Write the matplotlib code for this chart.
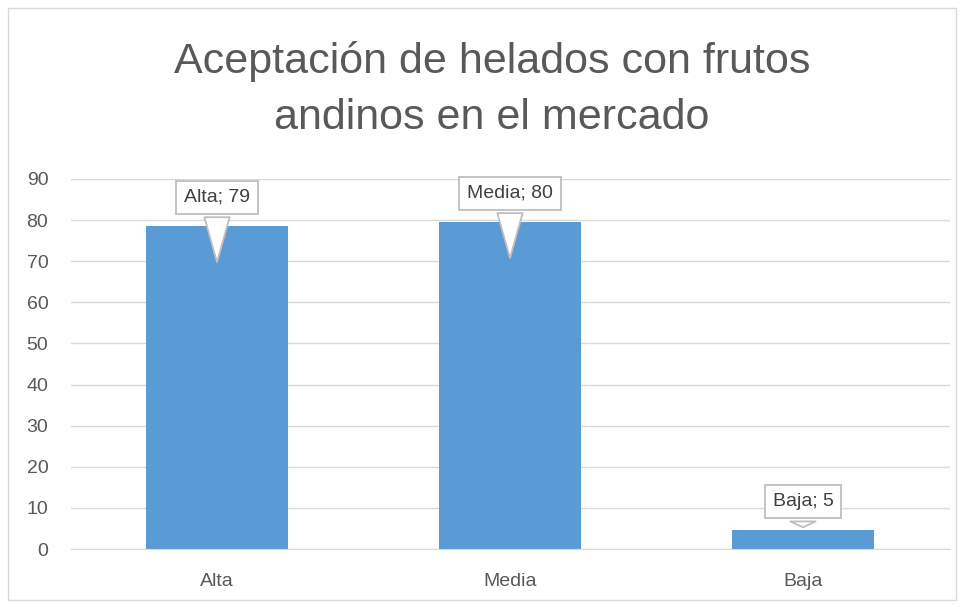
import matplotlib.pyplot as plt
from matplotlib.patches import Rectangle

categories = ["Alta", "Media", "Baja"]
values = [78.6, 79.6, 4.6]
tip_drop = [9.5, 9.5, 0.0]   # how far below bar top the callout points
yticks = list(range(0, 100, 10))

plt.rcParams['font.family'] = ['Liberation Sans', 'DejaVu Sans']
W, H = 964, 607
fig = plt.figure(figsize=(W / 100, H / 100), dpi=100)
ax = fig.add_axes([70.5 / W, (H - 549) / H, 879 / W, 370 / H])

x = range(len(categories))
ax.bar(x, values, width=0.485, color='#5b9bd5', zorder=2)
ax.set_xlim(-0.5, len(categories) - 0.5)
ax.set_ylim(0, 90)
ax.set_yticks(yticks)
ax.set_xticks(list(x))
ax.set_xticklabels(categories)
ax.grid(axis='y', color='#d9d9d9', linewidth=1, zorder=0)
for s in ['top', 'right', 'left']:
    ax.spines[s].set_visible(False)
ax.spines['bottom'].set_color('#d9d9d9')
ax.tick_params(axis='both', length=0, labelsize=14, colors='#595959')
ax.tick_params(axis='y', pad=16)
ax.tick_params(axis='x', pad=17)

# data callouts
for i, (c, v) in enumerate(zip(categories, values)):
    ax.annotate("{0}; {1:.0f}".format(c, v), xy=(i, v - tip_drop[i]), xytext=(i, v + 6.9),
                ha='center', va='center', fontsize=14, color='#404040',
                bbox=dict(boxstyle='square,pad=0.4', fc='white', ec='#bfbfbf', lw=1.3),
                arrowprops=dict(arrowstyle='wedge,tail_width=1.3,shrink_factor=0.5',
                                fc='white', ec='#bfbfbf', lw=1.3),
                zorder=5)

fig.text(492 / W, 1 - 62 / H, "Aceptación de helados con frutos", ha='center', va='center',
         fontsize=31, color='#595959')
fig.text(492 / W, 1 - 118 / H, "andinos en el mercado", ha='center', va='center',
         fontsize=31, color='#595959')

fig.patches.append(Rectangle((8 / W, 7 / H), (W - 16) / W, (H - 15) / H, transform=fig.transFigure,
                             fill=False, ec='#d9d9d9', lw=1))

fig.savefig('out.png', dpi=100)
